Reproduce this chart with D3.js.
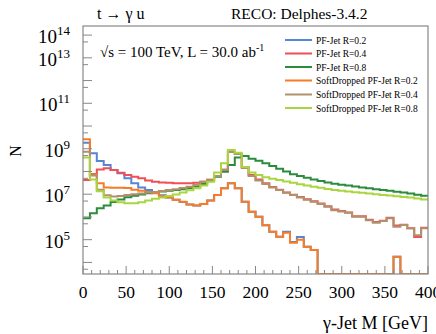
<!DOCTYPE html>
<html>
<head>
<meta charset="utf-8">
<script src="https://cdn.jsdelivr.net/npm/d3@7"></script>
<style>
  body { margin: 0; background: #fff; }
  text { font-family: "Liberation Serif", "DejaVu Serif", serif; fill: #000; }
</style>
</head>
<body>
<script>
// 50 bins of 8 GeV, values given as log10(N); null = empty bin
const binEdges = d3.range(0, 408, 8);

const pf02 = [9.26, 8.8, 8.46, 8.28, 8.06, 7.92, 7.7, 7.48, 7.3, 7.18,
  7.1, 6.95, 6.85, 6.76, 6.66, 6.55, 6.5, 6.57, 6.72, 6.96,
  7.26, 7.48, 7.26, 6.67, 6.23, 6.01, 5.64, 5.35, 5.13, 5.35,
  4.9, 5.12, 4.69, 4.55, null, null, null, null, null, null,
  null, null, null, null, null, 4.25, null, null, null, null];
const pf04 = [7.62, 7.89, 8.09, 8.14, 8.06, 7.94, 7.84, 7.77, 7.7, 7.6,
  7.55, 7.52, 7.5, 7.48, 7.48, 7.48, 7.5, 7.55, 7.64, 7.8,
  8.08, 8.86, 8.77, 8.2, 7.85, 7.65, 7.48, 7.32, 7.2, 7.08,
  6.98, 6.88, 6.78, 6.69, 6.59, 6.47, 6.33, 6.26, 6.2, 6.03,
  6.03, 5.88, 5.78, 5.83, 5.96, 5.62, 5.66, 5.5, 5.12, 5.52];
const pf08 = [5.94, 6.16, 6.38, 6.5, 6.66, 6.77, 6.87, 6.93, 6.99, 7.04,
  7.08, 7.12, 7.15, 7.18, 7.22, 7.27, 7.34, 7.45, 7.58, 7.77,
  7.99, 8.28, 8.62, 8.68, 8.56, 8.47, 8.36, 8.24, 8.12, 8.0,
  7.88, 7.8, 7.72, 7.65, 7.58, 7.52, 7.46, 7.42, 7.38, 7.34,
  7.3, 7.26, 7.22, 7.18, 7.15, 7.11, 7.07, 7.03, 6.98, 6.93];
const sd02 = [9.42, 7.87, 7.48, 7.3, 7.28, 7.28, 7.27, 7.2, 7.15, 7.1,
  7.04, 6.92, 6.85, 6.76, 6.67, 6.55, 6.5, 6.57, 6.72, 6.96,
  7.26, 7.48, 7.26, 6.67, 6.23, 6.01, 5.64, 5.35, 5.13, 5.3,
  4.87, 5.0, 4.69, 4.55, null, null, null, null, null, null,
  null, null, null, null, null, 4.25, null, null, null, null];
const sd04 = [8.87, 7.82, 7.2, 6.95, 6.9, 6.92, 6.96, 7.0, 7.03, 7.07,
  7.1, 7.14, 7.18, 7.22, 7.27, 7.33, 7.42, 7.55, 7.64, 7.8,
  8.08, 8.86, 8.77, 8.15, 7.8, 7.6, 7.45, 7.3, 7.18, 7.06,
  6.96, 6.86, 6.76, 6.67, 6.57, 6.45, 6.3, 6.24, 6.18, 6.01,
  6.01, 5.86, 5.74, 5.82, 5.94, 5.57, 5.65, 5.5, 5.2, 5.5];
const sd08 = [8.62, 7.65, 7.13, 6.85, 6.72, 6.65, 6.6, 6.6, 6.65, 6.72,
  6.8, 6.86, 6.92, 6.99, 7.08, 7.17, 7.26, 7.38, 7.55, 7.95,
  8.36, 8.94, 8.82, 8.2, 7.95, 7.85, 7.75, 7.68, 7.62, 7.56,
  7.5, 7.44, 7.38, 7.33, 7.28, 7.23, 7.19, 7.15, 7.12, 7.09,
  7.06, 7.03, 7.0, 6.97, 6.94, 6.91, 6.88, 6.85, 6.81, 6.77];

const seriesNames = ["PF-Jet R=0.2", "PF-Jet R=0.4", "PF-Jet R=0.8",
  "SoftDropped PF-Jet R=0.2", "SoftDropped PF-Jet R=0.4", "SoftDropped PF-Jet R=0.8"];
const seriesValues = [pf02, pf04, pf08, sd02, sd04, sd08];
const seriesColors = ["#5585d6", "#ef4f57", "#2a8c3c", "#f77c25", "#b0916c", "#a9d640"];

const xTicks = [0, 50, 100, 150, 200, 250, 300, 350, 400];
const yLabelExps = [5, 7, 9, 11, 13, 14];

const W = 436, H = 334;
const margin = {left: 83, right: 8, top: 26, bottom: 60};

const svg = d3.select("body").append("svg")
  .attr("width", W).attr("height", H);

const x = d3.scaleLinear().domain([0, 400]).range([margin.left, W - margin.right]);
const yLogMin = 3.49, yLogMax = 14.4;
const y = d3.scaleLog().domain([Math.pow(10, yLogMin), Math.pow(10, yLogMax)])
  .range([H - margin.bottom, margin.top]);

const clipId = "plotclip";
svg.append("clipPath").attr("id", clipId).append("rect")
  .attr("x", margin.left).attr("y", margin.top)
  .attr("width", x(400) - x(0)).attr("height", y.range()[0] - y.range()[1]);

// histograms drawn as steps
const plot = svg.append("g").attr("clip-path", "url(#" + clipId + ")");
const yBottom = y.range()[0];
function stepPath(vals) {
  let pts = [];
  vals.forEach((v, i) => {
    const yy = v === null ? yBottom : y(Math.pow(10, v));
    pts.push([x(binEdges[i]), yy]);
    pts.push([x(binEdges[i + 1]), yy]);
  });
  return d3.line()(pts);
}
seriesValues.forEach((vals, k) => {
  plot.append("path")
    .attr("d", stepPath(vals))
    .attr("fill", "none")
    .attr("stroke", seriesColors[k])
    .attr("stroke-width", 2)
    .attr("stroke-linejoin", "miter");
});

// frame
svg.append("rect")
  .attr("x", margin.left).attr("y", margin.top)
  .attr("width", x(400) - x(0)).attr("height", yBottom - margin.top)
  .attr("fill", "none").attr("stroke", "#888").attr("stroke-width", 1.2);

// x axis ticks
const gx = svg.append("g");
d3.range(0, 401, 10).forEach(v => {
  const len = v % 50 === 0 ? 8 : 4;
  gx.append("line").attr("x1", x(v)).attr("x2", x(v))
    .attr("y1", yBottom).attr("y2", yBottom - len)
    .attr("stroke", "#888").attr("stroke-width", 1);
});
xTicks.forEach(v => {
  svg.append("text").attr("x", x(v)).attr("y", 298)
    .attr("text-anchor", "middle").attr("font-size", 17.5).text(v);
});

// y axis ticks
const gy = svg.append("g");
for (let e = 4; e <= 14; e++) {
  gy.append("line").attr("x1", margin.left).attr("x2", margin.left + 9)
    .attr("y1", y(Math.pow(10, e))).attr("y2", y(Math.pow(10, e)))
    .attr("stroke", "#888").attr("stroke-width", 1);
}
for (let e = 3; e <= 13; e++) {
  const v = 5 * Math.pow(10, e);
  if (v < y.domain()[0]) continue;
  gy.append("line").attr("x1", margin.left).attr("x2", margin.left + 5)
    .attr("y1", y(v)).attr("y2", y(v))
    .attr("stroke", "#888").attr("stroke-width", 1);
}
yLabelExps.forEach(e => {
  const t = svg.append("text")
    .attr("x", 70).attr("y", y(Math.pow(10, e)) + 8)
    .attr("text-anchor", "end").attr("font-size", 19);
  t.append("tspan").text("10");
  t.append("tspan").attr("dy", -8).attr("font-size", 13).text(e);
});

// axis titles
svg.append("text").attr("x", W - margin.right).attr("y", 329)
  .attr("text-anchor", "end").attr("font-size", 18).text("γ-Jet M [GeV]");
svg.append("text")
  .attr("transform", "translate(21,151) rotate(-90)")
  .attr("text-anchor", "middle").attr("font-size", 16).text("N");

// top labels
svg.append("text").attr("x", 97).attr("y", 19).attr("font-size", 16).text("t → γ u");
svg.append("text").attr("x", 231).attr("y", 19).attr("font-size", 15.5).text("RECO: Delphes-3.4.2");
const lumi = svg.append("text").attr("x", 100).attr("y", 57).attr("font-size", 15);
lumi.append("tspan").text("√s = 100 TeV, L = 30.0 ab");
lumi.append("tspan").attr("dy", -6).attr("font-size", 10).text("-1");

// legend
const legendY = [40, 53.5, 67, 80.5, 94.5, 108];
seriesNames.forEach((name, k) => {
  svg.append("line").attr("x1", 285).attr("x2", 312)
    .attr("y1", legendY[k]).attr("y2", legendY[k])
    .attr("stroke", seriesColors[k]).attr("stroke-width", 2);
  svg.append("text").attr("x", 316).attr("y", legendY[k] + 3.5)
    .attr("font-size", 9.5).text(name);
});
</script>
</body>
</html>
